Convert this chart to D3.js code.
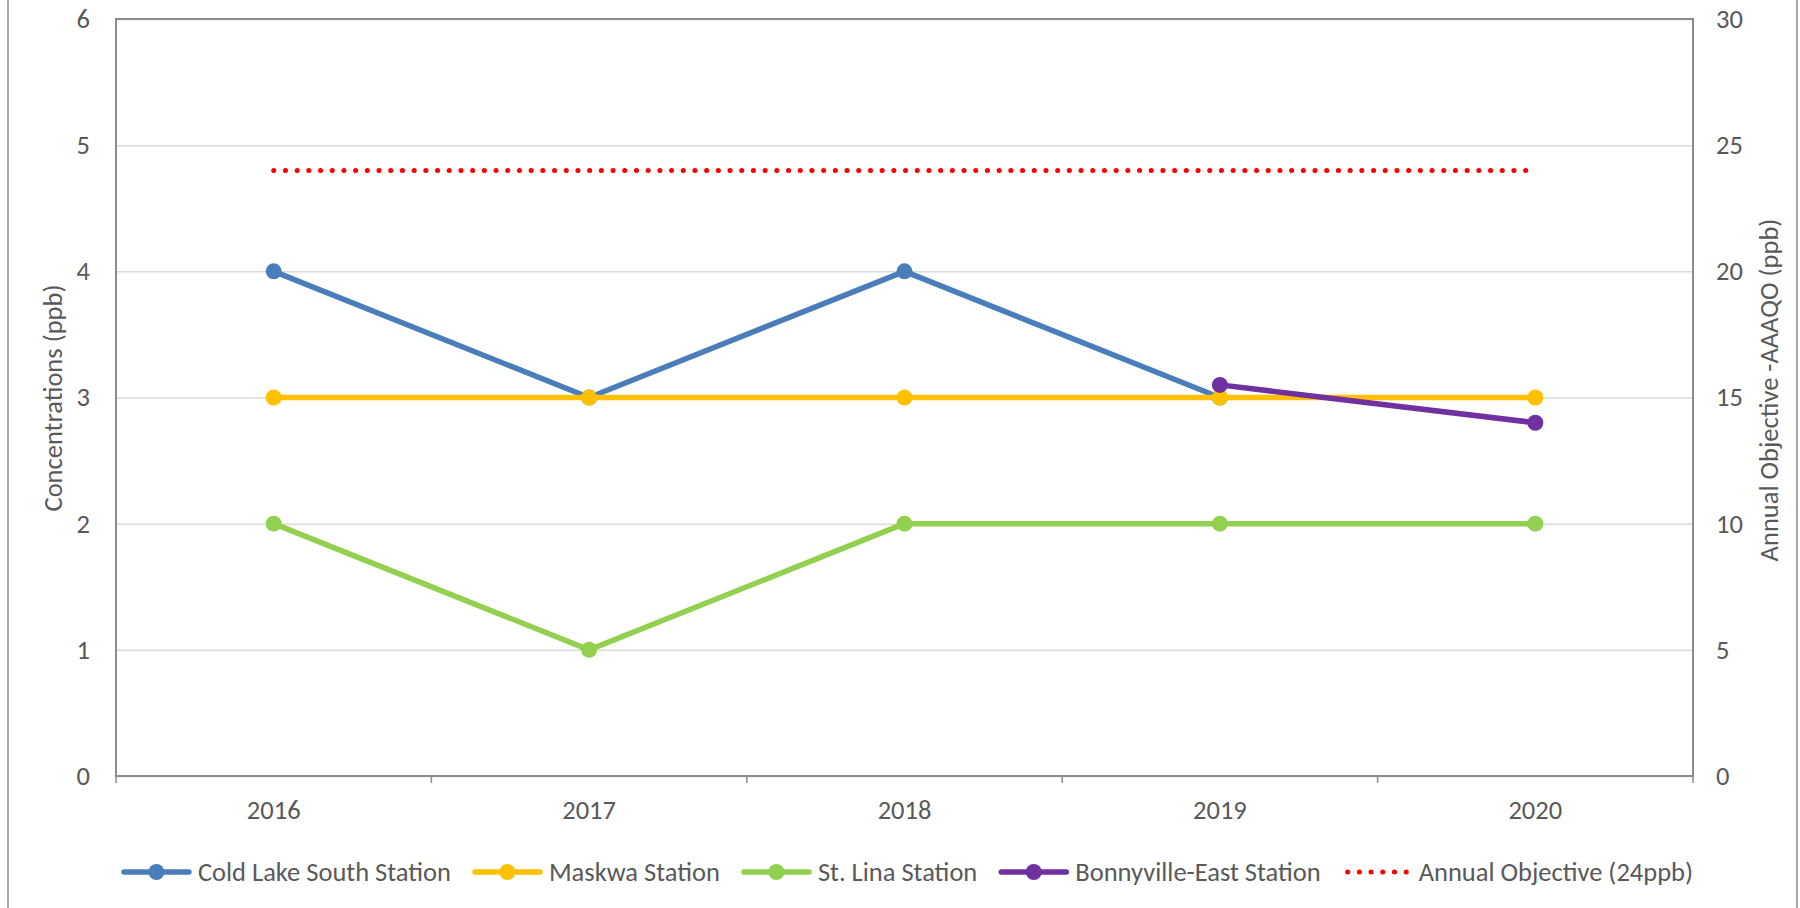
<!DOCTYPE html>
<html lang="en">
<head>
<meta charset="UTF-8">
<title>Annual concentrations</title>
<script src="https://cdn.jsdelivr.net/npm/d3@7"></script>
<style>
    body { margin: 0; background: #fff; }
    text { font-family: Carlito, Calibri, Lato, "Open Sans", sans-serif; fill: #595959; }
</style>
</head>
<body>
<script>
    // data
    var years = ["2016", "2017", "2018", "2019", "2020"];
    var coldLake = [4, 3, 4, 3, null];
    var maskwa = [3, 3, 3, 3, 3];
    var stLina = [2, 1, 2, 2, 2];
    var bonnyville = [null, null, null, 3.1, 2.8];
    var objective = [24, 24, 24, 24, 24];   // right axis, ppb
    var leftTicks = [0, 1, 2, 3, 4, 5, 6];
    var rightTicks = [0, 5, 10, 15, 20, 25, 30];

    var w = 1800, h = 908;
    var plotLeft = 116, plotRight = 1693, plotTop = 19, plotBottom = 776;
    var fontSize = 26.5;

    var svg = d3.select("body").append("svg")
        .attr("width", w)
        .attr("height", h);

    // outer chart frame (only the sides show)
    svg.append("rect")
        .attr("x", 8).attr("y", -10)
        .attr("width", 1789).attr("height", h + 20)
        .attr("fill", "none")
        .attr("stroke", "#8c8c8c")
        .attr("stroke-width", 1.5);

    var x = d3.scaleBand().domain(years).range([plotLeft, plotRight]);
    var yL = d3.scaleLinear().domain([0, 6]).range([plotBottom, plotTop]);
    var yR = d3.scaleLinear().domain([0, 30]).range([plotBottom, plotTop]);

    function cx(i) { return x(years[i]) + x.bandwidth() / 2; }

    function styleAxis(g) {
        g.attr("font-family", null).attr("font-size", null);
        g.select(".domain").remove();
        g.selectAll("text").attr("font-size", fontSize).attr("fill", "#595959");
    }

    // gridlines
    svg.append("g")
        .attr("transform", "translate(" + plotLeft + ",0)")
        .call(d3.axisLeft(yL).tickValues(leftTicks).tickSize(-(plotRight - plotLeft)).tickFormat(""))
        .call(function (g) {
            g.select(".domain").remove();
            g.selectAll("line").attr("stroke", "#d9d9d9").attr("stroke-width", 1.5);
        });

    // left tick labels
    svg.append("g")
        .attr("transform", "translate(" + plotLeft + ",0)")
        .call(d3.axisLeft(yL).tickValues(leftTicks).tickFormat(d3.format("d")).tickSize(0).tickPadding(26))
        .call(styleAxis);

    // right tick labels
    svg.append("g")
        .attr("transform", "translate(" + plotRight + ",0)")
        .call(d3.axisRight(yR).tickValues(rightTicks).tickFormat(d3.format("d")).tickSize(0).tickPadding(23))
        .call(styleAxis);

    // x labels
    svg.append("g")
        .attr("transform", "translate(0," + plotBottom + ")")
        .call(d3.axisBottom(x).tickSize(0).tickPadding(24))
        .call(styleAxis);

    // x ticks at category boundaries
    var edges = years.map(function (d) { return x(d); }).concat([plotRight]);
    svg.selectAll(".xtick")
        .data(edges).enter()
        .append("line")
        .attr("x1", function (d) { return d; })
        .attr("x2", function (d) { return d; })
        .attr("y1", plotBottom)
        .attr("y2", plotBottom + 7)
        .attr("stroke", "#8c8c8c")
        .attr("stroke-width", 1.5);

    // plot border
    svg.append("rect")
        .attr("x", plotLeft).attr("y", plotTop)
        .attr("width", plotRight - plotLeft).attr("height", plotBottom - plotTop)
        .attr("fill", "none")
        .attr("stroke", "#8c8c8c")
        .attr("stroke-width", 2);

    // axis titles
    svg.append("text")
        .attr("transform", "translate(53,398) rotate(-90)")
        .attr("text-anchor", "middle")
        .attr("dy", "0.35em")
        .attr("font-size", fontSize)
        .text("Concentrations (ppb)");

    svg.append("text")
        .attr("transform", "translate(1769,390) rotate(-90)")
        .attr("text-anchor", "middle")
        .attr("dy", "0.35em")
        .attr("font-size", fontSize)
        .text("Annual Objective -AAAQO (ppb)");

    var series = [
        { name: "Cold Lake South Station", values: coldLake, color: "#4a7ebb", y: yL },
        { name: "Maskwa Station", values: maskwa, color: "#ffc000", y: yL },
        { name: "St. Lina Station", values: stLina, color: "#92d050", y: yL },
        { name: "Bonnyville-East Station", values: bonnyville, color: "#7030a0", y: yL }
    ];

    series.forEach(function (s) {
        var line = d3.line()
            .defined(function (d) { return d != null; })
            .x(function (d, i) { return cx(i); })
            .y(function (d) { return s.y(d); });

        svg.append("path")
            .datum(s.values)
            .attr("d", line)
            .attr("fill", "none")
            .attr("stroke", s.color)
            .attr("stroke-width", 5.5)
            .attr("stroke-linejoin", "round");

        svg.append("g").selectAll("circle")
            .data(s.values.map(function (d, i) { return { v: d, i: i }; })
                .filter(function (d) { return d.v != null; }))
            .enter()
            .append("circle")
            .attr("cx", function (d) { return cx(d.i); })
            .attr("cy", function (d) { return s.y(d.v); })
            .attr("r", 8)
            .attr("fill", s.color);
    });

    // annual objective, dotted
    var objLine = d3.line()
        .x(function (d, i) { return cx(i); })
        .y(function (d) { return yR(d); });

    svg.append("path")
        .datum(objective)
        .attr("d", objLine)
        .attr("fill", "none")
        .attr("stroke", "#ff0000")
        .attr("stroke-width", 5)
        .attr("stroke-linecap", "round")
        .attr("stroke-dasharray", "0.1 11.6");

    // legend
    var legendItems = series.map(function (s) { return { name: s.name, color: s.color, dotted: false }; })
        .concat([{ name: "Annual Objective (24ppb)", color: "#ff0000", dotted: true }]);

    var legend = svg.append("g");
    var swatch = 71, textGap = 6, itemGap = 21, ly = 872, legendCenter = 907;

    var items = legend.selectAll("g")
        .data(legendItems).enter()
        .append("g");

    items.each(function (d) {
        var g = d3.select(this);
        if (d.dotted) {
            g.append("line")
                .attr("x1", 6).attr("x2", swatch - 4)
                .attr("y1", 0).attr("y2", 0)
                .attr("stroke", d.color)
                .attr("stroke-width", 5)
                .attr("stroke-linecap", "round")
                .attr("stroke-dasharray", "0.1 11.6");
        } else {
            g.append("line")
                .attr("x1", 3).attr("x2", swatch - 3)
                .attr("y1", 0).attr("y2", 0)
                .attr("stroke", d.color)
                .attr("stroke-width", 5.5)
                .attr("stroke-linecap", "round");
            g.append("circle")
                .attr("cx", swatch / 2).attr("cy", 0)
                .attr("r", 8)
                .attr("fill", d.color);
        }
        g.append("text")
            .attr("x", swatch + textGap)
            .attr("dy", "0.35em")
            .attr("font-size", fontSize)
            .text(d.name);
    });

    var widths = [];
    items.each(function () {
        widths.push(swatch + textGap + d3.select(this).select("text").node().getComputedTextLength());
    });
    var total = d3.sum(widths) + itemGap * (widths.length - 1);
    var pos = legendCenter - total / 2;
    items.attr("transform", function (d, i) {
        var t = "translate(" + pos + "," + ly + ")";
        pos += widths[i] + itemGap;
        return t;
    });
</script>
</body>
</html>
